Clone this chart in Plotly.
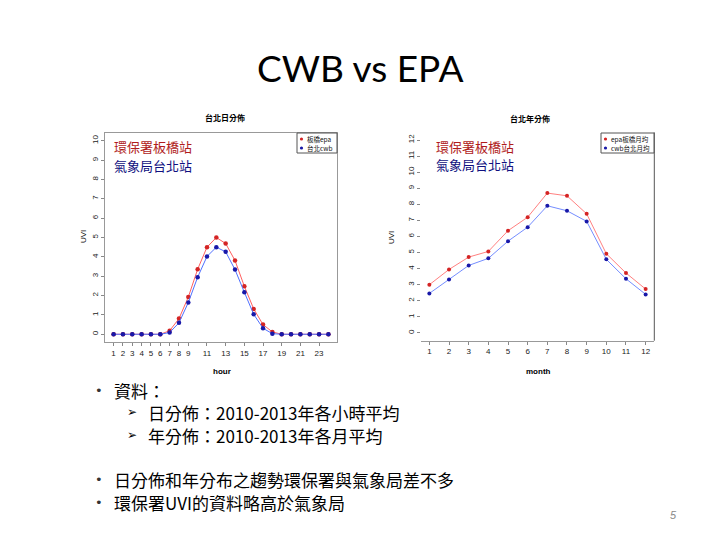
import plotly.graph_objects as go

# ---------------- data ----------------
hours = list(range(1, 25))
epa_hour = [0, 0, 0, 0, 0, 0, 0.18, 0.81, 1.92, 3.36, 4.5, 5.0, 4.69, 3.81, 2.48, 1.31, 0.5, 0.12, 0, 0, 0, 0, 0, 0]
cwb_hour = [0, 0, 0, 0, 0, 0, 0.09, 0.59, 1.64, 2.95, 4.02, 4.5, 4.26, 3.34, 2.17, 1.03, 0.31, 0.03, 0, 0, 0, 0, 0, 0]
hour_ticks = [1, 2, 3, 4, 5, 6, 7, 8, 9, 11, 13, 15, 17, 19, 21, 23]
hour_yticks = list(range(0, 11))

months = list(range(1, 13))
epa_month = [3.0, 3.95, 4.72, 5.07, 6.36, 7.2, 8.7, 8.53, 7.41, 4.93, 3.73, 2.73]
cwb_month = [2.46, 3.33, 4.2, 4.64, 5.71, 6.58, 7.91, 7.6, 6.94, 4.58, 3.37, 2.4]
month_yticks = list(range(0, 13))

legend_day = ["板橋epa", "台北cwb"]
legend_year = ["epa板橋月均", "cwb台北月均"]

W, H = 720, 540
def px(x, y):
    return x / W, 1 - y / H

RED_M, RED_L = "#d42424", "#ff6060"
BLUE_M, BLUE_L = "#1818a8", "#5070ff"

fig = go.Figure()
fig.add_trace(go.Scatter(x=hours, y=epa_hour, mode="lines+markers", name=legend_day[0],
                         line=dict(color=RED_L, width=1), marker=dict(color=RED_M, size=4.5),
                         xaxis="x", yaxis="y"))
fig.add_trace(go.Scatter(x=hours, y=cwb_hour, mode="lines+markers", name=legend_day[1],
                         line=dict(color=BLUE_L, width=1), marker=dict(color=BLUE_M, size=4.5),
                         xaxis="x", yaxis="y"))
fig.add_trace(go.Scatter(x=months, y=epa_month, mode="lines+markers", name=legend_year[0],
                         line=dict(color=RED_L, width=0.8), marker=dict(color=RED_M, size=4),
                         xaxis="x2", yaxis="y2"))
fig.add_trace(go.Scatter(x=months, y=cwb_month, mode="lines+markers", name=legend_year[1],
                         line=dict(color=BLUE_L, width=0.8), marker=dict(color=BLUE_M, size=4),
                         xaxis="x2", yaxis="y2"))

tickfont = dict(family="Liberation Sans", size=8, color="#222")
axis_common = dict(showgrid=False, zeroline=False, showline=True, linecolor="#999",
                   linewidth=1, ticks="outside", ticklen=3, tickcolor="#888", tickfont=tickfont)

fig.update_layout(
    width=W, height=H, margin=dict(l=0, r=0, t=0, b=0),
    paper_bgcolor="white", plot_bgcolor="white", showlegend=False,
    xaxis=dict(domain=[105 / W, 337 / W], range=[0.08, 24.92], tickvals=hour_ticks,
               mirror=True, anchor="y", **axis_common),
    yaxis=dict(domain=[1 - 342 / H, 1 - 133 / H], range=[-0.4, 10.4], tickvals=hour_yticks,
               tickangle=-90, mirror=True, anchor="x", **axis_common),
    xaxis2=dict(domain=[420.7 / W, 654.3 / W], range=[0.56, 12.44], tickvals=months,
                anchor="y2", **axis_common),
    yaxis2=dict(domain=[1 - 340.7 / H, 1 - 132.3 / H], range=[-0.48, 12.48], tickvals=month_yticks,
                tickangle=-90, anchor="x2", showline=False, showgrid=False, zeroline=False,
                ticks="outside", ticklen=3, tickcolor="#888", tickfont=tickfont),
)
# right border of the yearly plot
fig.add_shape(type="line", xref="x2 domain", yref="y2 domain", x0=1, x1=1, y0=0, y1=1,
              line=dict(color="#555", width=1))

annotations = []
def text(x, y, s, size, color="black", family="Noto Sans CJK TC", xanchor="center",
         angle=0, bold=False, italic=False, **kw):
    if bold:
        s = "<b>" + s + "</b>"
    if italic:
        s = "<i>" + s + "</i>"
    ax, ay = px(x, y)
    d = dict(x=ax, y=ay, xref="paper", yref="paper", text=s, showarrow=False,
             xanchor=xanchor, yanchor="middle", textangle=angle,
             font=dict(size=size, color=color, family=family))
    d.update(kw)
    annotations.append(d)

text(360, 68, "CWB vs EPA", 37, family="Lato")
# plot titles
text(225, 117, "台北日分佈", 8, bold=True)
text(530, 119, "台北年分佈", 8, bold=True)
text(222, 371, "hour", 8, bold=True, family="Liberation Sans")
text(538, 371, "month", 8, bold=True, family="Liberation Sans")
text(83, 237, "UVI", 8, family="Liberation Sans", angle=-90)
text(391, 237, "UVI", 8, family="Liberation Sans", angle=-90)
# station labels
text(112, 147, "環保署板橋站", 13, color="#b01c1c", xanchor="left")
text(112, 165, "氣象局台北站", 13, color="#101080", xanchor="left")
text(434, 147, "環保署板橋站", 13, color="#b01c1c", xanchor="left")
text(434, 164, "氣象局台北站", 13, color="#101080", xanchor="left")

# legends: bordered box, coloured dots, labels
def legend_box(x0, x1, y0, y1, names):
    a0, b0 = px(x0, y0)
    a1, b1 = px(x1, y1)
    fig.add_shape(type="rect", xref="paper", yref="paper", x0=a0, x1=a1, y0=b0, y1=b1,
                  line=dict(color="#555", width=1), fillcolor="white", layer="above")
    for i, (c, n) in enumerate(zip([RED_M, BLUE_M], names)):
        yy = y0 + 6 + 9 * i
        cx, cy = px(x0 + 4.5, yy)
        r = 1.6
        fig.add_shape(type="circle", xref="paper", yref="paper",
                      x0=cx - r / W, x1=cx + r / W, y0=cy - r / H, y1=cy + r / H,
                      fillcolor=c, line=dict(color=c, width=0), layer="above")
        text(x0 + 8, yy, n, 6.5, color="#111", xanchor="left")
legend_box(297, 337, 133, 153, legend_day)
legend_box(601, 654, 133, 153, legend_year)

# bullets
text(93, 390, "•", 13, color="#333", xanchor="left", family="DejaVu Sans")
text(112, 390, "資料：", 17, xanchor="left")
text(125, 412, "➢", 12, xanchor="left", family="DejaVu Sans")
text(146, 412, "日分佈：2010-2013年各小時平均", 17, xanchor="left")
text(125, 435, "➢", 12, xanchor="left", family="DejaVu Sans")
text(146, 435, "年分佈：2010-2013年各月平均", 17, xanchor="left")
text(93, 479, "•", 13, color="#333", xanchor="left", family="DejaVu Sans")
text(112, 479, "日分佈和年分布之趨勢環保署與氣象局差不多", 17, xanchor="left")
text(93, 502, "•", 13, color="#333", xanchor="left", family="DejaVu Sans")
text(112, 502, "環保署UVI的資料略高於氣象局", 17, xanchor="left")
text(673, 515, "5", 11, color="#888", family="Liberation Sans", italic=True)

fig.update_layout(annotations=annotations)
fig.write_html("out.html", post_script="document.body.style.margin='0px';",
               config={"displayModeBar": False})
